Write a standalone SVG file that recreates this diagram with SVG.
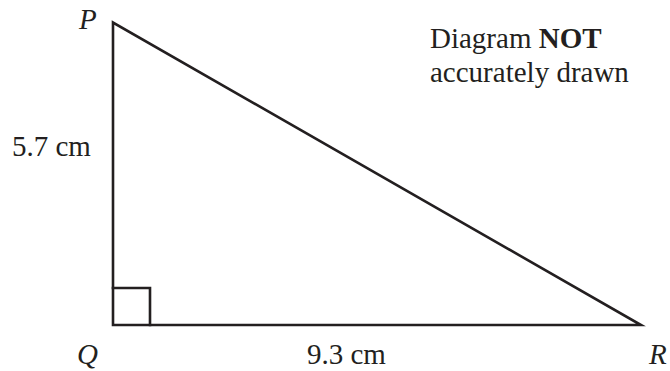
<svg xmlns="http://www.w3.org/2000/svg" width="670" height="371" viewBox="0 0 670 371">
<style>
.t{font-family:"Liberation Serif","Times New Roman",serif;font-size:29px;fill:#231f20}
.i{font-style:italic}
.b{font-weight:bold}
.ln{fill:none;stroke:#231f20;stroke-width:2.6;stroke-linejoin:miter;stroke-linecap:square}
</style>
<rect width="670" height="371" fill="#fff"/>
<g id="connectors">
<path class="ln" d="M113,22.5 L113,325 L641,325 Z"/>
<path class="ln" d="M113,288 L150,288 L150,325"/>
</g>
<g id="P"><text class="t i" x="79" y="29">P</text></g>
<g id="Q"><text class="t i" x="77" y="364">Q</text></g>
<g id="R"><text class="t i" x="649" y="364">R</text></g>
<g id="side-PQ"><text class="t" x="12" y="156">5.7 cm</text></g>
<g id="side-QR"><text class="t" x="307" y="364">9.3 cm</text></g>
<g id="note">
<text class="t" x="430" y="48">Diagram <tspan class="b">NOT</tspan></text>
<text class="t" x="430" y="82">accurately drawn</text>
</g>
</svg>
